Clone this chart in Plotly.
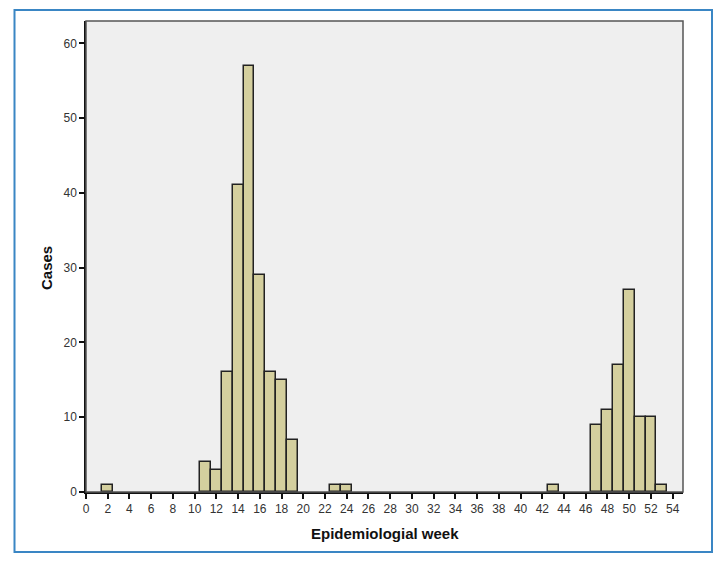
import plotly.graph_objects as go

weeks = [2, 11, 12, 13, 14, 15, 16, 17, 18, 19, 23, 24, 43, 47, 48, 49, 50, 51, 52, 53]
cases = [1, 4, 3, 16, 41, 57, 29, 16, 15, 7, 1, 1, 1, 9, 11, 17, 27, 10, 10, 1]
x_ticks = list(range(0, 55, 2))
y_ticks = list(range(0, 61, 10))
x_title = "Epidemiologial week"
y_title = "Cases"

W, H = 728, 570
L, R, T, B = 86, 45, 21, 78
pw, ph = W - L - R, H - T - B

def px2x(p):
    return (p - L) / pw

def py2y(p):
    return (H - B - p) / ph

fig = go.Figure()
fig.add_trace(go.Bar(
    x=weeks, y=cases, width=1,
    marker=dict(color="#D4CF9E", line=dict(color="#222222", width=1.5)),
    hoverinfo="x+y",
))

font = "Liberation Sans, Arial, sans-serif"
fig.update_layout(
    width=W, height=H,
    margin=dict(l=L, r=R, t=T, b=B, pad=0),
    paper_bgcolor="white",
    plot_bgcolor="#EFEFEF",
    showlegend=False,
    bargap=0,
    font=dict(family=font, size=12, color="#333333"),
    xaxis=dict(
        range=[0, 54.95], tickvals=x_ticks, ticktext=[str(v) for v in x_ticks],
        showgrid=False, zeroline=False, showline=True, linecolor="#111111", linewidth=1.5,
        ticks="outside", ticklen=5, tickwidth=1.5, tickcolor="#111111",
        tickfont=dict(size=12, color="#333333"),
    ),
    yaxis=dict(
        range=[0, 63.0], tickvals=y_ticks, ticktext=[str(v) for v in y_ticks],
        showgrid=False, zeroline=False, showline=True, linecolor="#111111", linewidth=1.5,
        ticks="outside", ticklen=5, tickwidth=1.5, tickcolor="#111111",
        tickfont=dict(size=12, color="#333333"),
    ),
)

# plot frame (top/right)
fig.add_shape(type="rect", xref="paper", yref="paper", x0=0, x1=1, y0=0, y1=1,
              line=dict(color="#555555", width=1.5), layer="above")
# outer blue border
fig.add_shape(type="rect", xref="paper", yref="paper",
              x0=px2x(14.5), x1=px2x(712), y0=py2y(552), y1=py2y(10),
              line=dict(color="#3A86C4", width=2), layer="above")

fig.add_annotation(text="<b>" + x_title + "</b>", xref="paper", yref="paper",
                   x=px2x(385), y=py2y(533), showarrow=False,
                   font=dict(family=font, size=15, color="#111111"),
                   xanchor="center", yanchor="middle")
fig.add_annotation(text="<b>" + y_title + "</b>", xref="paper", yref="paper",
                   x=px2x(46), y=py2y(268), showarrow=False, textangle=-90,
                   font=dict(family=font, size=15, color="#111111"),
                   xanchor="center", yanchor="middle")

fig.write_html("out.html")
